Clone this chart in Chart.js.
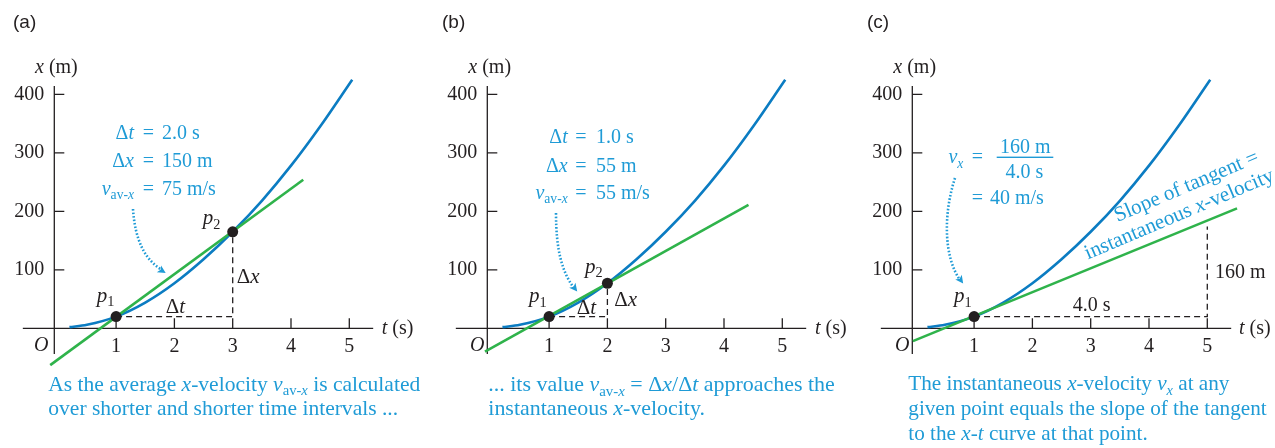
<!DOCTYPE html>
<html>
<head>
<meta charset="utf-8">
<script src="https://cdn.jsdelivr.net/npm/chart.js@4.4.1/dist/chart.umd.min.js"></script>
<style>
  html, body { margin: 0; padding: 0; background: #fff; }
  #wrap { position: relative; width: 1275px; height: 448px; overflow: hidden; }
  .panel { position: absolute; top: 0; width: 425px; height: 448px; }
</style>
</head>
<body>
<div id="wrap">
  <div class="panel" style="left:0"><canvas id="chartA"></canvas></div>
  <div class="panel" style="left:425px"><canvas id="chartB"></canvas></div>
  <div class="panel" style="left:850px"><canvas id="chartC"></canvas></div>
</div>
<script>
// tick labels on both axes
const tTicks = [1, 2, 3, 4, 5];
const xTicks = [100, 200, 300, 400];

// x-t curve (same motion in all three panels)
const curveT = [0.2, 0.5, 1, 1.5, 2, 2.5, 3, 3.5, 4, 4.5, 5.05];
const curveX = [2, 6, 20, 44, 77, 118, 165, 218, 278, 345, 425];

// (a) secant p1-p2
const lineAT = [-0.13, 4.21];
const lineAX = [-63, 254];
const pointsAT = [1, 3];
const pointsAX = [20, 165];
const dashAT = [1, 3, 3];
const dashAX = [20, 20, 165];

// (b) shorter secant
const lineBT = [-0.1, 4.42];
const lineBX = [-40, 211];
const pointsBT = [1, 2];
const pointsBX = [20, 77];
const dashBT = [1, 2, 2];
const dashBX = [20, 20, 77];

// (c) tangent at p1
const lineCT = [-0.05, 5.51];
const lineCX = [-22, 205];
const pointsCT = [1];
const pointsCX = [20];
const dashCT = [1, 5, 5];
const dashCX = [20, 20, 174];

const BLUE = '#0b7cc2';
const GREEN = '#2fb34b';
const TEXT_BLUE = '#1f9bd6';
const INK = '#231f20';
const SERIF = '"Liberation Serif", "Times New Roman", serif';
const SANS = '"Liberation Sans", Arial, sans-serif';

// scale geometry
const T_MIN = -0.06, T_MAX = 5.5, X_MAX = 450;
const PX_PER_S = 58.3, PX_PER_M = 0.585;
const AXIS_Y = 328.3;
const PLOT_W = (T_MAX - T_MIN) * PX_PER_S;
const PLOT_TOP = AXIS_Y - X_MAX * PX_PER_M;
const AXIS_T = [-0.6, 5.41];
const AXIS_X = [-44, 414];

function zip(ts, xs) {
    return ts.map((t, i) => ({ x: t, y: xs[i] }));
}

// rich text: segments of [text, style], style r = regular, i = italic, s = subscript
function fontFor(st, size) {
    const s = st.includes('s') ? size * 0.68 : size;
    return (st.includes('i') ? 'italic ' : '') + s.toFixed(2) + 'px ' + SERIF;
}
function richWidth(ctx, segs, size) {
    let w = 0;
    segs.forEach(([txt, st]) => { ctx.font = fontFor(st, size); w += ctx.measureText(txt).width; });
    return w;
}
function drawRich(ctx, segs, x, y, size, color, align) {
    const w = richWidth(ctx, segs, size);
    let cx = align === 'right' ? x - w : align === 'center' ? x - w / 2 : x;
    ctx.fillStyle = color;
    ctx.textAlign = 'left';
    ctx.textBaseline = 'alphabetic';
    segs.forEach(([txt, st]) => {
        ctx.font = fontFor(st, size);
        const dy = st.includes('s') ? size * 0.22 : 0;
        ctx.fillText(txt, cx, y + dy);
        cx += ctx.measureText(txt).width;
    });
}
// caption lines share one size, fitted to the width of a reference line
function drawCaption(ctx, lines, left, baselines, refLine, refWidth) {
    const size = 20 * refWidth / richWidth(ctx, lines[refLine], 20);
    lines.forEach((segs, i) => drawRich(ctx, segs, left, baselines[i], size, TEXT_BLUE, 'left'));
}

function dottedArrow(ctx, p0, c1, c2, p3) {
    ctx.save();
    ctx.strokeStyle = TEXT_BLUE;
    ctx.lineWidth = 2.6;
    ctx.setLineDash([1.6, 1.9]);
    ctx.beginPath();
    ctx.moveTo(p0[0], p0[1]);
    ctx.bezierCurveTo(c1[0], c1[1], c2[0], c2[1], p3[0] - 2, p3[1] - 2);
    ctx.stroke();
    const ang = Math.atan2(p3[1] - c2[1], p3[0] - c2[0]);
    ctx.setLineDash([]);
    ctx.fillStyle = TEXT_BLUE;
    ctx.translate(p3[0], p3[1]);
    ctx.rotate(ang);
    ctx.beginPath();
    ctx.moveTo(2, 0);
    ctx.lineTo(-6, -4);
    ctx.lineTo(-4, 0);
    ctx.lineTo(-6, 4);
    ctx.closePath();
    ctx.fill();
    ctx.restore();
}

function drawAxes(chart) {
    const { ctx, scales: { x, y } } = chart;
    const ox = x.getPixelForValue(T_MIN);
    const oy = y.getPixelForValue(0);
    ctx.save();
    ctx.strokeStyle = INK;
    ctx.lineWidth = 1.3;
    ctx.beginPath();
    ctx.moveTo(x.getPixelForValue(AXIS_T[0]), oy);
    ctx.lineTo(x.getPixelForValue(AXIS_T[1]), oy);
    ctx.moveTo(ox, y.getPixelForValue(AXIS_X[0]));
    ctx.lineTo(ox, y.getPixelForValue(AXIS_X[1]));
    tTicks.forEach(v => {
        const p = x.getPixelForValue(v);
        ctx.moveTo(p, oy);
        ctx.lineTo(p, oy - 10);
    });
    xTicks.forEach(v => {
        const p = y.getPixelForValue(v);
        ctx.moveTo(ox, p);
        ctx.lineTo(ox + 10, p);
    });
    ctx.stroke();
    ctx.restore();
}

const V_AVX = [['v', 'i'], ['av-', 's'], ['x', 'si']];

function drawCommon(ctx, p) {
    ctx.font = '19px ' + SANS;
    ctx.fillStyle = INK;
    ctx.textAlign = 'left';
    ctx.textBaseline = 'alphabetic';
    ctx.fillText(p.tag, p.tagX, 28);
    drawRich(ctx, [['x', 'i'], [' (m)', 'r']], p.titleX, 73, 20, INK, 'left');
    drawRich(ctx, [['t', 'i'], [' (s)', 'r']], p.tTitleX, 334, 20, INK, 'left');
    drawRich(ctx, [['O', 'i']], p.oX, 351, 20, INK, 'left');
}

// three equations aligned on the "=" sign
function drawEquations(ctx, rows, lhsRight, eqCenter, rhsLeft) {
    rows.forEach(([lhs, rhs, base]) => {
        drawRich(ctx, lhs, lhsRight, base, 20, TEXT_BLUE, 'right');
        drawRich(ctx, [['=', 'r']], eqCenter, base, 20, TEXT_BLUE, 'center');
        drawRich(ctx, rhs, rhsLeft, base, 20, TEXT_BLUE, 'left');
    });
}

const panels = {
    chartA: {
        axisLeft: 54.3,
        lineT: lineAT, lineX: lineAX, ptT: pointsAT, ptX: pointsAX, dashT: dashAT, dashX: dashAX,
        text(ctx) {
            drawCommon(ctx, { tag: '(a)', tagX: 13, titleX: 35, tTitleX: 381.7, oX: 34 });
            drawEquations(ctx, [
                [[['Δ', 'r'], ['t', 'i']], [['2.0 s', 'r']], 139.3],
                [[['Δ', 'r'], ['x', 'i']], [['150 m', 'r']], 167.3],
                [V_AVX, [['75 m/s', 'r']], 195]
            ], 134, 148.5, 162);
            drawRich(ctx, [['p', 'i'], ['1', 's']], 96.7, 301.7, 21, INK, 'left');
            drawRich(ctx, [['p', 'i'], ['2', 's']], 202.7, 224, 21, INK, 'left');
            drawRich(ctx, [['Δ', 'r'], ['t', 'i']], 165.7, 312.7, 21, INK, 'left');
            drawRich(ctx, [['Δ', 'r'], ['x', 'i']], 236.7, 282.7, 21, INK, 'left');
            dottedArrow(ctx, [133, 209], [135, 240], [145, 260], [164, 272]);
            drawCaption(ctx, [
                [['As the average ', 'r'], ['x', 'i'], ['-velocity ', 'r']].concat(V_AVX, [[' is calculated', 'r']]),
                [['over shorter and shorter time intervals ...', 'r']]
            ], 48.3, [390.7, 415], 0, 372);
        }
    },
    chartB: {
        axisLeft: 62.3,
        lineT: lineBT, lineX: lineBX, ptT: pointsBT, ptX: pointsBX, dashT: dashBT, dashX: dashBX,
        text(ctx) {
            drawCommon(ctx, { tag: '(b)', tagX: 17, titleX: 43.3, tTitleX: 390, oX: 45 });
            drawEquations(ctx, [
                [[['Δ', 'r'], ['t', 'i']], [['1.0 s', 'r']], 142.7],
                [[['Δ', 'r'], ['x', 'i']], [['55 m', 'r']], 171.7],
                [V_AVX, [['55 m/s', 'r']], 199]
            ], 142.7, 156, 171);
            drawRich(ctx, [['p', 'i'], ['1', 's']], 104, 302, 21, INK, 'left');
            drawRich(ctx, [['p', 'i'], ['2', 's']], 160, 272.7, 21, INK, 'left');
            drawRich(ctx, [['Δ', 'r'], ['t', 'i']], 151.7, 314.3, 21, INK, 'left');
            drawRich(ctx, [['Δ', 'r'], ['x', 'i']], 189.3, 306, 21, INK, 'left');
            dottedArrow(ctx, [131, 213], [131, 250], [137, 272], [151, 290]);
            drawCaption(ctx, [
                [['... its value ', 'r']].concat(V_AVX, [[' = Δ', 'r'], ['x', 'i'], ['/Δ', 'r'], ['t', 'i'], [' approaches the', 'r']]),
                [['instantaneous ', 'r'], ['x', 'i'], ['-velocity.', 'r']]
            ], 63.3, [390.7, 415], 0, 346.7);
        }
    },
    chartC: {
        axisLeft: 62.3,
        lineT: lineCT, lineX: lineCX, ptT: pointsCT, ptX: pointsCX, dashT: dashCT, dashX: dashCX,
        text(ctx) {
            drawCommon(ctx, { tag: '(c)', tagX: 17, titleX: 43.3, tTitleX: 389, oX: 45 });
            drawRich(ctx, [['v', 'i'], ['x', 'si']], 113.3, 163.3, 20, TEXT_BLUE, 'right');
            drawRich(ctx, [['=', 'r']], 127.3, 163.3, 20, TEXT_BLUE, 'center');
            drawRich(ctx, [['160 m', 'r']], 175.3, 152.7, 20, TEXT_BLUE, 'center');
            drawRich(ctx, [['4.0 s', 'r']], 174.5, 178.3, 20, TEXT_BLUE, 'center');
            ctx.fillStyle = TEXT_BLUE;
            ctx.fillRect(146.7, 156.6, 56.6, 1.4);
            drawRich(ctx, [['=', 'r']], 127.3, 204, 20, TEXT_BLUE, 'center');
            drawRich(ctx, [['40 m/s', 'r']], 140, 204, 20, TEXT_BLUE, 'left');
            drawRich(ctx, [['p', 'i'], ['1', 's']], 104, 302, 21, INK, 'left');
            drawRich(ctx, [['4.0 s', 'r']], 222.7, 311, 20, INK, 'left');
            drawRich(ctx, [['160 m', 'r']], 365, 277.7, 20, INK, 'left');
            dottedArrow(ctx, [105, 178], [93, 215], [94, 257], [112, 282]);
            ctx.save();
            ctx.translate(267.5, 222);
            ctx.rotate(-23 * Math.PI / 180);
            drawRich(ctx, [['Slope of tangent =', 'r']], 0, 0, 21, TEXT_BLUE, 'left');
            drawRich(ctx, [['instantaneous ', 'r'], ['x', 'i'], ['-velocity', 'r']], -42, 23, 21, TEXT_BLUE, 'left');
            ctx.restore();
            drawCaption(ctx, [
                [['The instantaneous ', 'r'], ['x', 'i'], ['-velocity ', 'r'], ['v', 'i'], ['x', 'si'], [' at any', 'r']],
                [['given point equals the slope of the tangent', 'r']],
                [['to the ', 'r'], ['x', 'i'], ['-', 'r'], ['t', 'i'], [' curve at that point.', 'r']]
            ], 58.3, [390, 415, 440], 1, 358.4);
        }
    }
};

function makeChart(id) {
    const p = panels[id];
    const decor = {
        id: 'decor',
        beforeDatasetsDraw(chart) { drawAxes(chart); },
        afterDatasetsDraw(chart) { p.text(chart.ctx); }
    };
    const tickFont = { family: SERIF, size: 20 };
    return new Chart(document.getElementById(id), {
        type: 'scatter',
        data: {
            datasets: [
                { data: zip(p.ptT, p.ptX), pointRadius: 5.5, pointBackgroundColor: INK, pointBorderWidth: 0, clip: false },
                { data: zip(p.lineT, p.lineX), showLine: true, borderColor: GREEN, borderWidth: 2.6, pointRadius: 0, clip: false },
                { data: zip(curveT, curveX), showLine: true, borderColor: BLUE, borderWidth: 2.6, pointRadius: 0,
                  cubicInterpolationMode: 'monotone', clip: false },
                { data: zip(p.dashT, p.dashX), showLine: true, borderColor: INK, borderWidth: 1.3, borderDash: [6, 4],
                  pointRadius: 0, clip: false }
            ]
        },
        options: {
            responsive: true,
            maintainAspectRatio: false,
            animation: false,
            events: [],
            layout: {
                padding: { left: 0, right: 425 - p.axisLeft - PLOT_W, top: PLOT_TOP, bottom: 0 }
            },
            plugins: { legend: { display: false }, tooltip: { enabled: false } },
            scales: {
                x: {
                    type: 'linear', min: T_MIN, max: T_MAX,
                    grid: { display: false, drawTicks: false }, border: { display: false },
                    afterFit: s => { s.height = 448 - AXIS_Y; },
                    afterBuildTicks: s => { s.ticks = tTicks.map(v => ({ value: v })); },
                    ticks: { padding: 6, color: INK, font: tickFont, maxRotation: 0, autoSkip: false }
                },
                y: {
                    type: 'linear', min: 0, max: X_MAX,
                    grid: { display: false, drawTicks: false }, border: { display: false },
                    afterFit: s => { s.width = p.axisLeft; },
                    afterBuildTicks: s => { s.ticks = xTicks.map(v => ({ value: v })); },
                    ticks: { padding: 10, color: INK, font: tickFont, autoSkip: false }
                }
            }
        },
        plugins: [decor]
    });
}

['chartA', 'chartB', 'chartC'].forEach(makeChart);
</script>
</body>
</html>
